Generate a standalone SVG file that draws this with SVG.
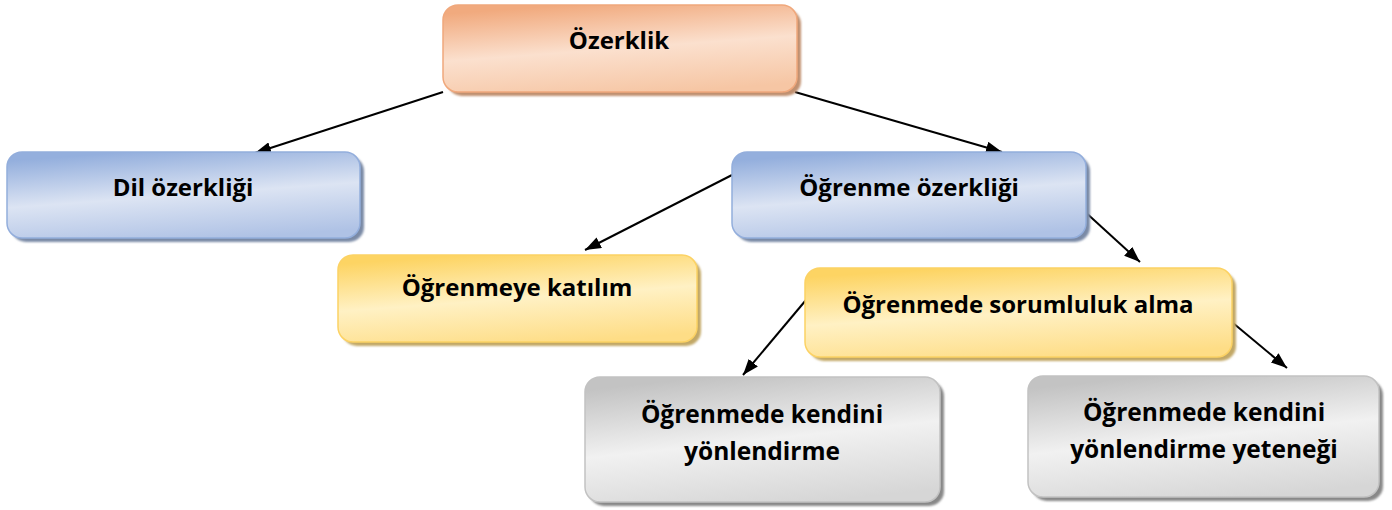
<svg xmlns="http://www.w3.org/2000/svg" width="1392" height="510" viewBox="0 0 1392 510">
<style>
.t{font-family:"Open Sans","Liberation Sans",sans-serif;font-weight:bold;fill:#000;text-anchor:middle}
.m{font-size:24px}
.g{font-size:24.5px}
.c{stroke:#000;stroke-width:2;fill:none;marker-end:url(#ah)}
</style>
<defs>
<marker id="ah" viewBox="0 0 16 12" refX="16" refY="6" markerWidth="16" markerHeight="12" markerUnits="userSpaceOnUse" orient="auto">
<path d="M0,0 L16,6 L0,12 z" fill="#000"/>
</marker>
<filter id="sh" x="-5%" y="-10%" width="110%" height="130%"><feGaussianBlur stdDeviation="1.2"/></filter>
<linearGradient id="gO" x1="0.35" y1="0" x2="0.65" y2="1">
<stop offset="0" stop-color="#F1AA7E"/><stop offset="0.5" stop-color="#FBE0CE"/><stop offset="1" stop-color="#F6C6A4"/>
</linearGradient>
<linearGradient id="gB" x1="0.35" y1="0" x2="0.65" y2="1">
<stop offset="0" stop-color="#94AFDD"/><stop offset="0.5" stop-color="#DCE4F3"/><stop offset="1" stop-color="#AFC2E5"/>
</linearGradient>
<linearGradient id="gY" x1="0.35" y1="0" x2="0.65" y2="1">
<stop offset="0" stop-color="#FDD463"/><stop offset="0.5" stop-color="#FFF1C4"/><stop offset="1" stop-color="#FEDD86"/>
</linearGradient>
<linearGradient id="gG" x1="0.35" y1="0" x2="0.65" y2="1">
<stop offset="0" stop-color="#C3C3C3"/><stop offset="0.5" stop-color="#F1F1F1"/><stop offset="1" stop-color="#D6D6D6"/>
</linearGradient>
</defs>

<g id="connectors">
<line class="c" x1="443" y1="92" x2="255" y2="153"/>
<line class="c" x1="795" y1="92" x2="1002" y2="152"/>
<line class="c" x1="732" y1="175" x2="585" y2="250"/>
<line class="c" x1="1083" y1="210" x2="1140" y2="262"/>
<line class="c" x1="806" y1="300" x2="743" y2="375"/>
<line class="c" x1="1233" y1="323" x2="1287" y2="368"/>
</g>

<g id="n-ozerklik">
<rect x="447" y="9" width="354" height="87" rx="15" fill="#C0906F" filter="url(#sh)"/>
<rect x="443" y="5" width="354" height="87" rx="15" fill="url(#gO)" stroke="#F0A87C" stroke-width="1.5"/>
<text class="t m" x="619" y="49">Özerklik</text>
</g>

<g id="n-dil">
<rect x="11" y="156" width="353" height="86" rx="15" fill="#7A8AA6" filter="url(#sh)"/>
<rect x="7" y="152" width="353" height="86" rx="15" fill="url(#gB)" stroke="#93AEDC" stroke-width="1.5"/>
<text class="t m" x="183" y="196">Dil özerkliği</text>
</g>

<g id="n-ogrenme">
<rect x="736" y="156" width="354" height="86" rx="15" fill="#7A8AA6" filter="url(#sh)"/>
<rect x="732" y="152" width="354" height="86" rx="15" fill="url(#gB)" stroke="#93AEDC" stroke-width="1.5"/>
<text class="t m" x="909" y="196">Öğrenme özerkliği</text>
</g>

<g id="n-katilim">
<rect x="342" y="259" width="359" height="87" rx="15" fill="#C2A866" filter="url(#sh)"/>
<rect x="338" y="255" width="359" height="87" rx="15" fill="url(#gY)" stroke="#FCD264" stroke-width="1.5"/>
<text class="t m" x="517" y="296">Öğrenmeye katılım</text>
</g>

<g id="n-sorumluluk">
<rect x="809" y="272" width="427" height="89" rx="15" fill="#C2A866" filter="url(#sh)"/>
<rect x="805" y="268" width="427" height="89" rx="15" fill="url(#gY)" stroke="#FCD264" stroke-width="1.5"/>
<text class="t m" x="1018" y="313">Öğrenmede sorumluluk alma</text>
</g>

<g id="n-yonlendirme">
<rect x="589" y="381" width="355" height="125" rx="15" fill="#888888" filter="url(#sh)"/>
<rect x="585" y="377" width="355" height="125" rx="15" fill="url(#gG)" stroke="#C2C2C2" stroke-width="1.5"/>
<text class="t g" x="762" y="423">Öğrenmede kendini</text>
<text class="t g" x="762" y="460">yönlendirme</text>
</g>

<g id="n-yetenek">
<rect x="1032" y="380" width="351" height="121" rx="15" fill="#888888" filter="url(#sh)"/>
<rect x="1028" y="376" width="351" height="121" rx="15" fill="url(#gG)" stroke="#C2C2C2" stroke-width="1.5"/>
<text class="t g" x="1204" y="421">Öğrenmede kendini</text>
<text class="t g" x="1204" y="458">yönlendirme yeteneği</text>
</g>
</svg>
